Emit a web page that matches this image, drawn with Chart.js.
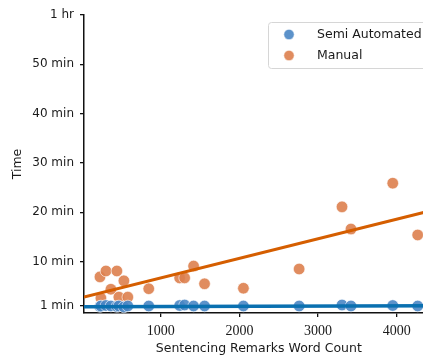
<!DOCTYPE html>
<html>
<head>
<meta charset="utf-8">
<script src="https://cdn.jsdelivr.net/npm/chart.js@4/dist/chart.umd.min.js"></script>
<style>
html,body{margin:0;padding:0;overflow:hidden;background:#fff;}
#wrap{width:440px;height:360px;}
</style>
</head>
<body>
<div id="wrap"><canvas id="c" width="440" height="360"></canvas></div>
<script>
// ---- data ----
const wordCount = [228,240,304,367,443,468,532,582,848,1241,1304,1418,1557,2051,2759,3304,3418,3949,4266];
const manualMinutes = [6.9,2.6,8.1,4.4,8.1,2.8,6.1,2.8,4.5,6.7,6.7,9.1,5.5,4.6,8.5,21.1,16.6,25.9,15.4];
const semiMinutes = [0.9,1.0,1.1,1.0,0.9,1.0,0.8,1.0,1.0,1.1,1.2,1.0,1.0,1.0,1.0,1.2,1.0,1.1,1.0];
const trendX = [25, 4468];
const manualTrend = [2.82, 20.46];
const semiTrend = [0.85, 1.05];
const seriesNames = ['Semi Automated', 'Manual'];
const xTicks = [1000, 2000, 3000, 4000];
const yTicks = [1, 10, 20, 30, 40, 50, 60];
const yTickLabels = ['1 min', '10 min', '20 min', '30 min', '40 min', '50 min', '1 hr'];
const xLabel = 'Sentencing Remarks Word Count';
const yLabel = 'Time';

const semiPointColor = 'rgba(74,134,196,0.9)';
const manualPointColor = 'rgba(221,128,78,0.9)';
const semiLineColor = '#0a70b0';
const manualLineColor = '#d55e00';
const textColor = '#1a1a1a';
const axisColor = '#111111';

const pts = (xs, ys) => xs.map((x, i) => ({x: x, y: ys[i]}));

const legendPlugin = {
  id: 'boxLegend',
  afterDraw(chart) {
    const ctx = chart.ctx;
    const x0 = 268.5, y0 = 22.5, w = 162, h = 46, r = 3;
    ctx.save();
    ctx.beginPath();
    ctx.moveTo(x0 + r, y0);
    ctx.arcTo(x0 + w, y0, x0 + w, y0 + h, r);
    ctx.arcTo(x0 + w, y0 + h, x0, y0 + h, r);
    ctx.arcTo(x0, y0 + h, x0, y0, r);
    ctx.arcTo(x0, y0, x0 + w, y0, r);
    ctx.closePath();
    ctx.fillStyle = 'rgba(255,255,255,0.85)';
    ctx.fill();
    ctx.strokeStyle = '#d6d6d6';
    ctx.lineWidth = 1;
    ctx.stroke();
    const items = chart.data.datasets.filter(d => d.showInLegend);
    items.forEach((d, i) => {
      const cy = 34.5 + i * 21;
      ctx.beginPath();
      ctx.arc(289, cy, 5.2, 0, Math.PI * 2);
      ctx.fillStyle = d.backgroundColor;
      ctx.fill();
      ctx.strokeStyle = '#fff';
      ctx.lineWidth = 0.6;
      ctx.stroke();
      ctx.fillStyle = textColor;
      ctx.font = '12.5px "DejaVu Sans"';
      ctx.textBaseline = 'middle';
      ctx.textAlign = 'left';
      ctx.fillText(d.label, 317, cy);
    });
    ctx.restore();
  }
};

new Chart(document.getElementById('c'), {
  type: 'scatter',
  data: {
    datasets: [
      {label: seriesNames[0], showInLegend: true, data: pts(wordCount, semiMinutes),
       backgroundColor: semiPointColor, borderColor: '#ffffff', borderWidth: 0.6,
       pointRadius: 5.8, pointHoverRadius: 5.8, clip: false, order: 2},
      {label: seriesNames[1], showInLegend: true, data: pts(wordCount, manualMinutes),
       backgroundColor: manualPointColor, borderColor: '#ffffff', borderWidth: 0.6,
       pointRadius: 5.8, pointHoverRadius: 5.8, clip: false, order: 2},
      {type: 'line', label: seriesNames[0] + ' fit', data: pts(trendX, semiTrend),
       borderColor: semiLineColor, borderWidth: 3.5, pointRadius: 0, fill: false, order: 1},
      {type: 'line', label: seriesNames[1] + ' fit', data: pts(trendX, manualTrend),
       borderColor: manualLineColor, borderWidth: 3, pointRadius: 0, fill: false, order: 1}
    ]
  },
  options: {
    responsive: false,
    animation: false,
    layout: {padding: {top: 15, right: 5, bottom: 0, left: 0}},
    plugins: {legend: {display: false}, tooltip: {enabled: false}},
    scales: {
      x: {
        type: 'linear', min: trendX[0], max: trendX[1],
        afterBuildTicks: s => { s.ticks = xTicks.map(v => ({value: v})); },
        afterFit: s => { s.height = 47; },
        grid: {display: true, drawOnChartArea: false, drawTicks: true, tickLength: 4,
               color: axisColor, tickColor: axisColor, tickWidth: 1.3, lineWidth: 1.3},
        border: {display: true, color: axisColor, width: 1.5},
        ticks: {color: textColor, padding: 6, maxRotation: 0,
                font: {family: '"Liberation Serif"', size: 14},
                callback: v => String(v)},
        title: {display: true, text: xLabel, color: textColor, padding: 4,
                font: {family: '"DejaVu Sans"', size: 12.5}}
      },
      y: {
        type: 'linear', min: -0.42, max: 60,
        afterBuildTicks: s => { s.ticks = yTicks.map(v => ({value: v})); },
        afterFit: s => { s.width = 84; },
        grid: {display: true, drawOnChartArea: false, drawTicks: true, tickLength: 4,
               color: axisColor, tickColor: axisColor, tickWidth: 1.3, lineWidth: 1.3},
        border: {display: true, color: axisColor, width: 1.5},
        ticks: {color: textColor, padding: 6,
                font: {family: '"DejaVu Sans"', size: 12},
                callback: v => yTickLabels[yTicks.indexOf(v)]},
        title: {display: true, text: yLabel, color: textColor, padding: 10,
                font: {family: '"DejaVu Sans"', size: 12.5}}
      }
    }
  },
  plugins: [legendPlugin]
});
</script>
</body>
</html>
